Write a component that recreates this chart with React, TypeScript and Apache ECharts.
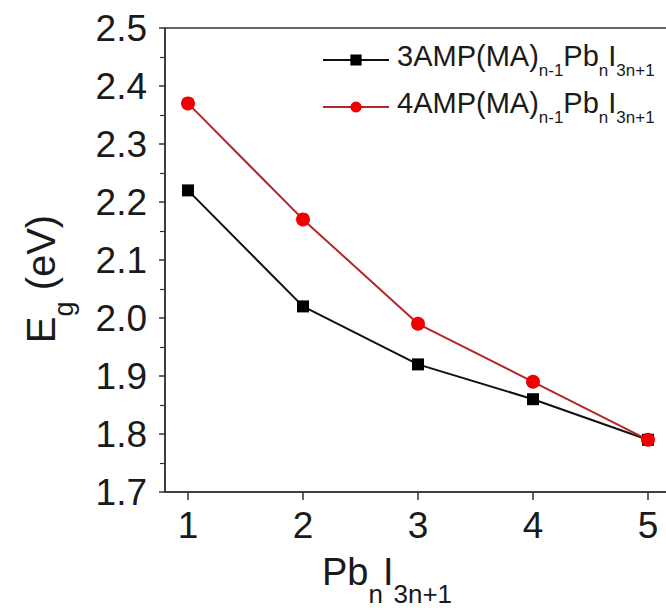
import React, { useEffect, useRef } from 'react';
import * as echarts from 'echarts';

const nValues = [1, 2, 3, 4, 5];
const eg3AMP = [2.22, 2.02, 1.92, 1.86, 1.79];
const eg4AMP = [2.37, 2.17, 1.99, 1.89, 1.79];
const seriesNames = ['3AMP(MA)n-1PbnI3n+1', '4AMP(MA)n-1PbnI3n+1'];
const legendRich = [
  '{m|3AMP(MA)}{s|n-1}{m|Pb}{s|n}{m|I}{s|3n+1}',
  '{m|4AMP(MA)}{s|n-1}{m|Pb}{s|n}{m|I}{s|3n+1}',
];
const xName = '{m|Pb}{s|n}{m|I}{s|3n+1}';
const yName = '{m|E}{s|g}{m| (eV)}';

const FONT = 'Liberation Sans, Arial, sans-serif';
const AXIS_COLOR = '#333';

export default function App() {
  const ref = useRef<HTMLDivElement>(null);
  useEffect(() => {
    if (!ref.current) return;
    const chart = echarts.init(ref.current, undefined, { renderer: 'svg' });
    const toPairs = (ys: number[]) => nValues.map((n, i) => [n, ys[i]]);
    chart.setOption({
      animation: false,
      backgroundColor: '#fff',
      grid: {
        left: 165,
        top: 28,
        right: -5,
        bottom: 122,
        show: true,
        borderColor: AXIS_COLOR,
        borderWidth: 1.5,
        outerBoundsMode: 'none',
      },
      xAxis: {
        type: 'value',
        min: 0.8,
        max: 5.2,
        axisLine: { show: true, onZero: false, lineStyle: { color: AXIS_COLOR, width: 1.5 } },
        axisTick: { show: true, customValues: nValues, length: 8, lineStyle: { color: AXIS_COLOR, width: 1.5 } },
        axisLabel: {
          customValues: nValues,
          fontSize: 37,
          fontFamily: FONT,
          color: '#1a1a1a',
          margin: 15,
        },
        splitLine: { show: false },
      },
      yAxis: {
        type: 'value',
        min: 1.7,
        max: 2.5,
        interval: 0.1,
        axisLine: { show: true, lineStyle: { color: AXIS_COLOR, width: 1.5 } },
        axisTick: { show: true, length: 6, lineStyle: { color: AXIS_COLOR, width: 1.5 } },
        minorTick: { show: true, splitNumber: 2, length: 5, lineStyle: { color: AXIS_COLOR, width: 1.2 } },
        axisLabel: {
          fontSize: 37,
          fontFamily: FONT,
          color: '#1a1a1a',
          margin: 18,
          formatter: (v: number) => v.toFixed(1),
        },
        splitLine: { show: false },
      },
      legend: {
        orient: 'vertical',
        left: 322,
        top: 41,
        padding: 0,
        itemWidth: 66,
        itemHeight: 14,
        itemGap: 9,
        data: seriesNames,
        formatter: (name: string) => legendRich[seriesNames.indexOf(name)],
        textStyle: {
          padding: [0, 0, 0, 3],
          rich: {
            m: { fontSize: 29, fontFamily: FONT, color: '#1a1a1a', verticalAlign: 'bottom', padding: [0, 0, 9, 0] },
            s: { fontSize: 17, fontFamily: FONT, color: '#1a1a1a', verticalAlign: 'bottom' },
          },
        },
      },
      graphic: [
        {
          type: 'text',
          x: 322,
          y: 553,
          style: {
            text: xName,
            verticalAlign: 'top',
            align: 'left',
            rich: {
              m: { fontSize: 38, fontFamily: FONT, fill: '#1a1a1a', verticalAlign: 'bottom', padding: [0, 0, 16, 0] },
              s: { fontSize: 26, fontFamily: FONT, fill: '#1a1a1a', verticalAlign: 'bottom' },
            },
          },
        },
        {
          type: 'text',
          x: 49,
          y: 279,
          rotation: Math.PI / 2,
          style: {
            text: yName,
            verticalAlign: 'middle',
            align: 'center',
            rich: {
              m: { fontSize: 40, fontFamily: FONT, fill: '#1a1a1a', verticalAlign: 'bottom', padding: [0, 0, 16, 0] },
              s: { fontSize: 27, fontFamily: FONT, fill: '#1a1a1a', verticalAlign: 'bottom' },
            },
          },
        },
      ],
      series: [
        {
          name: seriesNames[0],
          type: 'line',
          data: toPairs(eg3AMP),
          symbol: 'rect',
          symbolSize: 12,
          lineStyle: { color: '#111', width: 2 },
          itemStyle: { color: '#000' },
          z: 2,
        },
        {
          name: seriesNames[1],
          type: 'line',
          data: toPairs(eg4AMP),
          symbol: 'circle',
          symbolSize: 14,
          lineStyle: { color: '#b3262c', width: 2 },
          itemStyle: { color: '#f00000' },
          z: 3,
        },
      ],
    });
    return () => chart.dispose();
  }, []);
  return (
    <div
      ref={ref}
      style={{ position: 'absolute', left: 0, top: 0, width: 666, height: 614, background: '#fff' }}
    />
  );
}
